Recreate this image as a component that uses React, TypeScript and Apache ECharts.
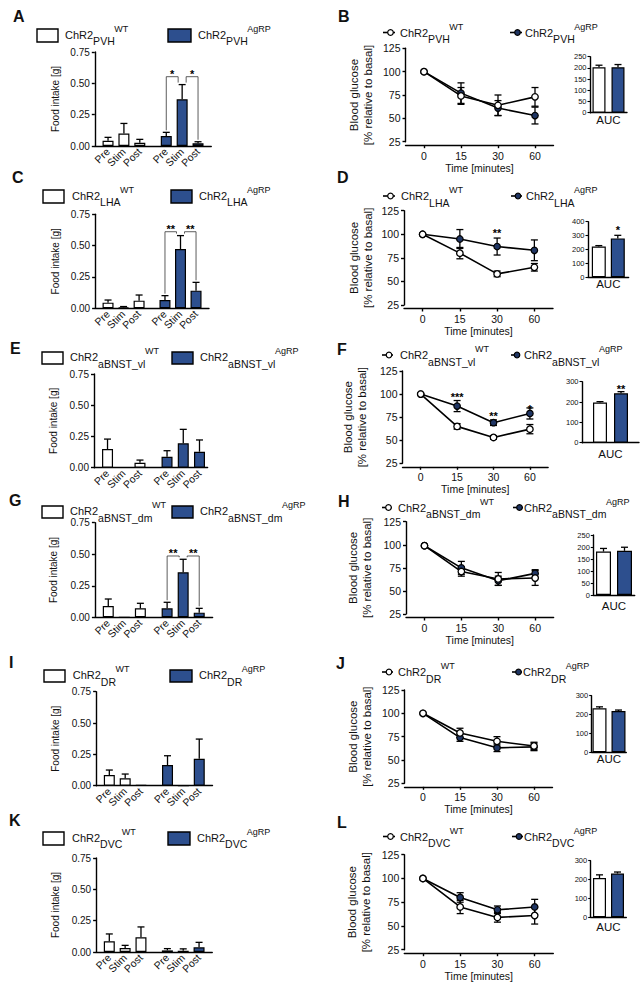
import React, { useEffect, useRef } from 'react';
import * as echarts from 'echarts';

const FONT = "'Liberation Sans', Arial, Helvetica, sans-serif";
const BLUE = '#2d4f8e';
const NAVY = '#1f3563';
const INK = '#111';

// ---------- texts / categories ----------
const panelLetters = ['A', 'B', 'C', 'D', 'E', 'F', 'G', 'H', 'I', 'J', 'K', 'L'];
const regions = ['PVH', 'LHA', 'aBNST_vl', 'aBNST_dm', 'DR', 'DVC'];
const genotypes = ['WT', 'AgRP'];
const phases = ['Pre', 'Stim', 'Post'];
const timePoints = ['0', '15', '30', '60'];
const aucCategory = ['AUC'];

// ---------- Food intake [g]: mean and SEM (rows: PVH, LHA, aBNST_vl, aBNST_dm, DR, DVC) ----------
const intakeWT = [
  [0.042, 0.100, 0.026],
  [0.045, 0.008, 0.061],
  [0.149, 0.003, 0.040],
  [0.090, 0.000, 0.071],
  [0.085, 0.059, 0.004],
  [0.085, 0.032, 0.117],
];
const intakeWTErr = [
  [0.027, 0.080, 0.027],
  [0.021, 0.006, 0.045],
  [0.080, 0.000, 0.021],
  [0.055, 0.000, 0.040],
  [0.040, 0.034, 0.000],
  [0.059, 0.021, 0.083],
];
const intakeAgRP = [
  [0.080, 0.373, 0.022],
  [0.066, 0.473, 0.141],
  [0.088, 0.195, 0.128],
  [0.071, 0.357, 0.037],
  [0.165, 0.000, 0.215],
  [0.013, 0.010, 0.037],
];
const intakeAgRPErr = [
  [0.029, 0.117, 0.012],
  [0.035, 0.107, 0.066],
  [0.048, 0.112, 0.094],
  [0.048, 0.103, 0.034],
  [0.074, 0.000, 0.157],
  [0.014, 0.015, 0.040],
];
// significance over AgRP Pre–Stim and Stim–Post brackets
const intakeSig = ['*', '**', '', '**', '', ''];
const intakeSigLevel = [0.553, 0.611, 0, 0.486, 0, 0];

// ---------- Blood glucose [% relative to basal] ----------
const glucoseWT = [
  [100, 74, 64, 73],
  [100, 80, 58, 65],
  [100, 65, 53, 62],
  [99, 71, 63, 64],
  [100, 79, 70, 65],
  [100, 70, 59, 61],
];
const glucoseWTErr = [
  [0, 9, 11, 10],
  [0, 6, 3, 4],
  [0, 3, 2, 5],
  [0, 5, 7, 8],
  [0, 5, 5, 4],
  [0, 7, 5, 9],
];
const glucoseAgRP = [
  [100, 77, 61, 53],
  [100, 95, 87, 83],
  [100, 87, 69, 79],
  [99, 75, 61, 69],
  [100, 74, 63, 64],
  [100, 80, 67, 70],
];
const glucoseAgRPErr = [
  [0, 11, 8, 9],
  [0, 10, 9, 11],
  [0, 6, 3, 6],
  [0, 7, 5, 4],
  [0, 4, 4, 4],
  [0, 5, 4, 8],
];
// [time index, label, level]
const glucoseStars: [number, string, number][][] = [
  [],
  [[2, '**', 104.5]],
  [[1, '***', 99], [2, '**', 79.2], [3, '*', 86.3]],
  [],
  [],
  [],
];

// ---------- AUC ----------
const aucWT = [203, 222, 198, 181, 233, 208];
const aucWTErr = [9, 6, 4, 13, 8, 17];
const aucAgRP = [203, 280, 243, 184, 219, 232];
const aucAgRPErr = [12, 22, 8, 15, 5, 8];
const aucStar = ['', '*', '**', '', '', ''];
const aucStarLevel = [0, 357, 275, 0, 0, 0];
const aucAxisMax = [250, 400, 300, 250, 300, 300];
const aucAxisStep = [50, 100, 100, 50, 100, 100];

// ---------- layout (pixels) ----------
const barSlotsWT = [2, 5, 8];
const barSlotsAgRP = [13, 16, 19];
const barLayout = [
  { left: 94.8, top: 52, unit: 5.294, slots: 22, height: 94, titleX: 55 },
  { left: 95.1, top: 214.3, unit: 5.176, slots: 22, height: 94, titleX: 55 },
  { left: 94.0, top: 374, unit: 5.41, slots: 21, height: 93.7, titleX: 53 },
  { left: 94.9, top: 522.7, unit: 5.35, slots: 22, height: 94.6, titleX: 53 },
  { left: 96.1, top: 691.7, unit: 5.29, slots: 22, height: 94, titleX: 55 },
  { left: 96.1, top: 858, unit: 5.28, slots: 22, height: 94, titleX: 55 },
];
const lineLayout = [
  { left: 405.5, top: 48.3, width: 148, height: 93.4, titleX: 361 },
  { left: 404, top: 210.7, width: 149, height: 94.3, titleX: 361 },
  { left: 402.5, top: 371, width: 145.6, height: 92.3, titleX: 355.3 },
  { left: 406, top: 521.7, width: 147.6, height: 92.3, titleX: 360 },
  { left: 404.5, top: 690, width: 148, height: 93.3, titleX: 360 },
  { left: 404.3, top: 854.7, width: 149, height: 95, titleX: 359 },
];
const aucLayout = [
  { left: 590, top: 56.7, width: 37, height: 56, bw: 13, gap: 6, labelMargin: 1.5 },
  { left: 588, top: 221.7, width: 40.6, height: 55.6, bw: 14, gap: 5, labelMargin: 1 },
  { left: 582, top: 381.7, width: 57, height: 61, bw: 14, gap: 7, labelMargin: 5 },
  { left: 593.3, top: 535, width: 41.4, height: 60, bw: 15, gap: 6, labelMargin: 4.5 },
  { left: 591.7, top: 695.7, width: 34.6, height: 56.6, bw: 14, gap: 5, labelMargin: 0.5 },
  { left: 590.7, top: 860.7, width: 35.6, height: 56.6, bw: 13, gap: 5, labelMargin: 4 },
];
const barLegend = [
  { wt: [37, 29, 21, 13], wtText: 65, ag: [168, 29, 23, 13], agText: 198 },
  { wt: [43, 190, 21, 13], wtText: 72, ag: [171, 190, 21, 13], agText: 199 },
  { wt: [42, 352, 21, 12], wtText: 70, ag: [172, 352, 21, 12], agText: 200 },
  { wt: [42, 506, 21, 12], wtText: 70, ag: [172, 506, 21, 12], agText: 200 },
  { wt: [44, 670, 21, 12], wtText: 72.7, ag: [170, 670, 22, 12], agText: 199 },
  { wt: [43, 832, 21, 13], wtText: 72, ag: [168, 832, 22, 13], agText: 197 },
];
const lineLegend = [
  { y: 32.5, wt: [383, 395], wtText: 400, ag: [510, 522], agText: 525 },
  { y: 196, wt: [383, 395], wtText: 401, ag: [511, 522], agText: 526 },
  { y: 355, wt: [382, 393], wtText: 400, ag: [511, 520], agText: 524 },
  { y: 507.5, wt: [382, 392], wtText: 398, ag: [513, 523], agText: 524 },
  { y: 672, wt: [382, 393], wtText: 398, ag: [512, 522], agText: 523 },
  { y: 836.5, wt: [383, 395], wtText: 400, ag: [512, 523], agText: 524 },
];
const letterPos = [
  [13, 16], [338, 16], [12, 177], [337, 177.5], [10, 348], [337, 349],
  [9, 500], [338, 501.5], [9, 662], [336, 663], [9, 820], [337, 822],
];

const CAP = 3.5;
const AXIS_W = 1.4;

let measureCtx: CanvasRenderingContext2D | null = null;
function textWidth(s: string, size: number) {
  if (!measureCtx) measureCtx = document.createElement('canvas').getContext('2d');
  if (!measureCtx) return s.length * size * 0.55;
  measureCtx.font = `${size}px ${FONT}`;
  return measureCtx.measureText(s).width;
}

function txt(x: number, y: number, s: string, size: number, weight = 'normal', align = 'left') {
  return {
    type: 'text',
    x,
    y,
    silent: true,
    style: {
      text: s,
      fontSize: size,
      fontFamily: FONT,
      fontWeight: weight,
      fill: INK,
      textAlign: align,
      textVerticalAlign: 'middle',
      align,
      verticalAlign: 'middle',
    },
  };
}

function legendLabel(x: number, cy: number, region: string, genotype: string) {
  const mainSize = 11;
  const subSize = 10.5;
  const supSize = 9;
  const w1 = textWidth('ChR2', mainSize);
  const w2 = textWidth(region, subSize);
  return [
    txt(x, cy, 'ChR2', mainSize),
    txt(x + w1, cy + 6.5, region, subSize),
    txt(x + w1 + w2 - 0.5, cy - 6, genotype, supSize),
  ];
}

function errorBarRender(upOnly: boolean, dx: number) {
  return (_params: any, api: any) => {
    const x = api.value(0);
    const m = api.value(1);
    const e = api.value(2);
    if (!(e > 0)) return { type: 'group', children: [] };
    const top = api.coord([x, m + e]);
    const mid = api.coord([x, m]);
    const bot = api.coord([x, m - e]);
    const cx = mid[0] + dx;
    const y0 = upOnly ? mid[1] : bot[1];
    const st = { stroke: '#000', lineWidth: 1.3 };
    const children: any[] = [
      { type: 'line', shape: { x1: cx, y1: y0, x2: cx, y2: top[1] }, style: st },
      { type: 'line', shape: { x1: cx - CAP, y1: top[1], x2: cx + CAP, y2: top[1] }, style: st },
    ];
    if (!upOnly) {
      children.push({ type: 'line', shape: { x1: cx - CAP, y1: bot[1], x2: cx + CAP, y2: bot[1] }, style: st });
    }
    return { type: 'group', children };
  };
}

function starText(x: number, y: number, s: string) {
  return {
    type: 'text',
    x,
    y,
    style: {
      text: s,
      fontSize: 11,
      fontWeight: 'bold',
      fontFamily: FONT,
      fill: '#000',
      textAlign: 'center',
      textVerticalAlign: 'middle',
      align: 'center',
      verticalAlign: 'middle',
    },
  };
}

function buildOption() {
  const grid: any[] = [];
  const xAxis: any[] = [];
  const yAxis: any[] = [];
  const series: any[] = [];
  const graphic: any[] = [];

  const axisLine = { show: true, lineStyle: { color: '#000', width: AXIS_W } };
  const tickStyle = { color: '#000', width: AXIS_W };
  const labelStyle = { color: INK, fontFamily: FONT };

  for (let r = 0; r < 6; r++) {
    // ---------------- Food intake bar chart ----------------
    const bl = barLayout[r];
    const bi = grid.length;
    grid.push({ left: bl.left, top: bl.top, width: bl.unit * bl.slots, height: bl.height });
    const cats: string[] = Array.from({ length: bl.slots }, () => '');
    barSlotsWT.forEach((s, k) => (cats[s] = phases[k]));
    barSlotsAgRP.forEach((s, k) => (cats[s] = phases[k]));
    xAxis.push({
      gridIndex: bi,
      type: 'category',
      data: cats,
      boundaryGap: true,
      axisLine,
      axisTick: { show: false },
      axisLabel: { ...labelStyle, interval: 0, rotate: 45, fontSize: 10.5, margin: 4 },
    });
    yAxis.push({
      gridIndex: bi,
      type: 'value',
      min: 0,
      max: 0.75,
      interval: 0.25,
      name: 'Food intake [g]',
      nameLocation: 'middle',
      nameGap: bl.left - bl.titleX - 5,
      nameTextStyle: { ...labelStyle, fontSize: 10 },
      axisLine,
      axisTick: { show: true, length: 3, lineStyle: tickStyle },
      axisLabel: { ...labelStyle, fontSize: 10, margin: 5, formatter: (v: number) => v.toFixed(2) },
      splitLine: { show: false },
    });
    const barData: any[] = [];
    barSlotsWT.forEach((s, k) => barData.push({ value: [s, intakeWT[r][k]], itemStyle: { color: '#fff' } }));
    barSlotsAgRP.forEach((s, k) => barData.push({ value: [s, intakeAgRP[r][k]], itemStyle: { color: BLUE } }));
    series.push({
      type: 'bar',
      xAxisIndex: bi,
      yAxisIndex: bi,
      data: barData,
      barWidth: 11,
      silent: true,
      itemStyle: { borderColor: '#000', borderWidth: 1.2 },
      z: 2,
    });
    const errData: number[][] = [];
    barSlotsWT.forEach((s, k) => errData.push([s, intakeWT[r][k], intakeWTErr[r][k]]));
    barSlotsAgRP.forEach((s, k) => errData.push([s, intakeAgRP[r][k], intakeAgRPErr[r][k]]));
    series.push({
      type: 'custom',
      xAxisIndex: bi,
      yAxisIndex: bi,
      data: errData,
      renderItem: errorBarRender(true, 0),
      silent: true,
      z: 3,
    });
    if (intakeSig[r]) {
      const level = intakeSigLevel[r];
      const tops = barSlotsAgRP.map((_, k) => intakeAgRP[r][k] + intakeAgRPErr[r][k]);
      const brackets = [
        [barSlotsAgRP[0], barSlotsAgRP[1], level, tops[0], tops[1]],
        [barSlotsAgRP[1], barSlotsAgRP[2], level, tops[1], tops[2]],
      ];
      const legDx = [[0, -4], [4, 0]];
      const sig = intakeSig[r];
      series.push({
        type: 'custom',
        xAxisIndex: bi,
        yAxisIndex: bi,
        data: brackets,
        encode: { x: 0, y: 2 },
        silent: true,
        z: 4,
        renderItem: (params: any, api: any) => {
          const i = params.dataIndex;
          const b = brackets[i];
          const pL = api.coord([b[0], b[2]]);
          const pR = api.coord([b[1], b[2]]);
          const eL = api.coord([b[0], b[3]]);
          const eR = api.coord([b[1], b[4]]);
          const xL = pL[0] + legDx[i][0];
          const xR = pR[0] + legDx[i][1];
          const yB = pL[1];
          return {
            type: 'group',
            children: [
              {
                type: 'polyline',
                shape: { points: [[xL, eL[1] - 2], [xL, yB], [xR, yB], [xR, eR[1] - 2]] },
                style: { stroke: '#333', lineWidth: 0.8, fill: 'none' },
              },
              starText((xL + xR) / 2, yB - 2.5, sig),
            ],
          };
        },
      });
    }

    // ---------------- Blood glucose line chart ----------------
    const ll = lineLayout[r];
    const li = grid.length;
    grid.push({ left: ll.left, top: ll.top, width: ll.width, height: ll.height });
    xAxis.push({
      gridIndex: li,
      type: 'category',
      data: timePoints,
      boundaryGap: true,
      offset: 3.5,
      axisLine,
      axisTick: { show: true, alignWithLabel: true, length: 3, lineStyle: tickStyle },
      axisLabel: { ...labelStyle, fontSize: 10.5, margin: 5 },
      name: 'Time [minutes]',
      nameLocation: 'middle',
      nameGap: 13,
      nameTextStyle: { ...labelStyle, fontSize: 10.5 },
    });
    yAxis.push({
      gridIndex: li,
      type: 'value',
      min: 25,
      max: 125,
      interval: 25,
      name: 'Blood glucose\n[% relative to basal]',
      nameLocation: 'middle',
      nameGap: ll.left - ll.titleX - 14,
      nameTextStyle: { ...labelStyle, fontSize: 11.5, lineHeight: 14 },
      axisLine,
      axisTick: { show: true, length: 3, lineStyle: tickStyle },
      axisLabel: { ...labelStyle, fontSize: 10.5, margin: 5 },
      splitLine: { show: false },
    });
    series.push({
      type: 'custom',
      xAxisIndex: li,
      yAxisIndex: li,
      data: glucoseWT[r].map((m, i) => [i, m, glucoseWTErr[r][i]]),
      renderItem: errorBarRender(false, 0),
      silent: true,
      z: 2,
    });
    series.push({
      type: 'custom',
      xAxisIndex: li,
      yAxisIndex: li,
      data: glucoseAgRP[r].map((m, i) => [i, m, glucoseAgRPErr[r][i]]),
      renderItem: errorBarRender(false, 0),
      silent: true,
      z: 2,
    });
    series.push({
      type: 'line',
      xAxisIndex: li,
      yAxisIndex: li,
      data: glucoseAgRP[r],
      symbol: 'circle',
      symbolSize: 6.5,
      showAllSymbol: true,
      lineStyle: { color: '#000', width: 1.6 },
      itemStyle: { color: NAVY, borderColor: '#000', borderWidth: 1.2 },
      silent: true,
      z: 4,
    });
    series.push({
      type: 'line',
      xAxisIndex: li,
      yAxisIndex: li,
      data: glucoseWT[r],
      symbol: 'circle',
      symbolSize: 6.5,
      showAllSymbol: true,
      lineStyle: { color: '#000', width: 1.6 },
      itemStyle: { color: '#fff', borderColor: '#000', borderWidth: 1.3 },
      silent: true,
      z: 5,
    });
    const stars = glucoseStars[r];
    if (stars.length) {
      series.push({
        type: 'custom',
        xAxisIndex: li,
        yAxisIndex: li,
        data: stars.map((s) => [s[0], s[2]]),
        silent: true,
        z: 6,
        renderItem: (params: any, api: any) => {
          const p = api.coord([api.value(0), api.value(1)]);
          return starText(p[0], p[1] + 2.5, stars[params.dataIndex][1]);
        },
      });
    }

    // ---------------- AUC inset ----------------
    const al = aucLayout[r];
    const ai = grid.length;
    grid.push({ left: al.left, top: al.top, width: al.width, height: al.height });
    xAxis.push({
      gridIndex: ai,
      type: 'category',
      data: aucCategory,
      boundaryGap: true,
      axisLine,
      axisTick: { show: false },
      axisLabel: { ...labelStyle, fontSize: 11.5, margin: al.labelMargin },
    });
    yAxis.push({
      gridIndex: ai,
      type: 'value',
      min: 0,
      max: aucAxisMax[r],
      interval: aucAxisStep[r],
      axisLine,
      axisTick: { show: true, length: 2.5, lineStyle: { color: '#000', width: 1.1 } },
      axisLabel: { ...labelStyle, fontSize: 7.5, margin: 3.5 },
      splitLine: { show: false },
    });
    const barGapPct = `${(al.gap / al.bw) * 100}%`;
    series.push({
      type: 'bar',
      xAxisIndex: ai,
      yAxisIndex: ai,
      data: [aucWT[r]],
      barWidth: al.bw,
      barGap: barGapPct,
      itemStyle: { color: '#fff', borderColor: '#000', borderWidth: 1.2 },
      silent: true,
      z: 2,
    });
    series.push({
      type: 'bar',
      xAxisIndex: ai,
      yAxisIndex: ai,
      data: [aucAgRP[r]],
      barWidth: al.bw,
      barGap: barGapPct,
      itemStyle: { color: BLUE, borderColor: '#000', borderWidth: 1.2 },
      silent: true,
      z: 2,
    });
    const off = (al.bw + al.gap) / 2;
    series.push({
      type: 'custom',
      xAxisIndex: ai,
      yAxisIndex: ai,
      data: [[0, aucWT[r], aucWTErr[r]]],
      renderItem: errorBarRender(true, -off),
      silent: true,
      z: 3,
    });
    series.push({
      type: 'custom',
      xAxisIndex: ai,
      yAxisIndex: ai,
      data: [[0, aucAgRP[r], aucAgRPErr[r]]],
      renderItem: errorBarRender(true, off),
      silent: true,
      z: 3,
    });
    if (aucStar[r]) {
      const s = aucStar[r];
      series.push({
        type: 'custom',
        xAxisIndex: ai,
        yAxisIndex: ai,
        data: [[0, aucStarLevel[r]]],
        silent: true,
        z: 4,
        renderItem: (_params: any, api: any) => {
          const p = api.coord([api.value(0), api.value(1)]);
          return starText(p[0] + off, p[1] + 2.5, s);
        },
      });
    }

    // ---------------- letters and legends ----------------
    const [lx1, ly1] = letterPos[2 * r];
    const [lx2, ly2] = letterPos[2 * r + 1];
    graphic.push(txt(lx1, ly1, panelLetters[2 * r], 16, 'bold'));
    graphic.push(txt(lx2, ly2, panelLetters[2 * r + 1], 16, 'bold'));

    const bg = barLegend[r];
    const boxes = [
      { b: bg.wt, fill: '#fff', tx: bg.wtText, g: genotypes[0] },
      { b: bg.ag, fill: BLUE, tx: bg.agText, g: genotypes[1] },
    ];
    boxes.forEach((it) => {
      const [x, y, w, h] = it.b;
      graphic.push({
        type: 'rect',
        silent: true,
        shape: { x, y, width: w, height: h },
        style: { fill: it.fill, stroke: '#000', lineWidth: 1.4 },
      });
      graphic.push(...legendLabel(it.tx, y + h / 2 - 1, regions[r], it.g));
    });

    const lg = lineLegend[r];
    const syms = [
      { xs: lg.wt, fill: '#fff', tx: lg.wtText, g: genotypes[0] },
      { xs: lg.ag, fill: NAVY, tx: lg.agText, g: genotypes[1] },
    ];
    syms.forEach((it) => {
      const [x1, x2] = it.xs;
      graphic.push({
        type: 'line',
        silent: true,
        shape: { x1, y1: lg.y, x2, y2: lg.y },
        style: { stroke: '#000', lineWidth: 1.6 },
      });
      graphic.push({
        type: 'circle',
        silent: true,
        shape: { cx: (x1 + x2) / 2 + 1.5, cy: lg.y, r: 2.8 },
        style: { fill: it.fill, stroke: '#000', lineWidth: 1.2 },
      });
      graphic.push(...legendLabel(it.tx, lg.y, regions[r], it.g));
    });
  }

  return {
    animation: false,
    backgroundColor: '#fff',
    textStyle: { fontFamily: FONT },
    grid,
    xAxis,
    yAxis,
    series,
    graphic: { elements: graphic },
  };
}

export default function App() {
  const ref = useRef<HTMLDivElement>(null);
  useEffect(() => {
    if (!ref.current) return;
    const chart = echarts.init(ref.current, undefined, { renderer: 'svg' });
    chart.setOption(buildOption() as any);
    return () => chart.dispose();
  }, []);
  return (
    <div
      ref={ref}
      style={{ position: 'absolute', left: 0, top: 0, width: 644, height: 988, background: '#fff' }}
    />
  );
}
